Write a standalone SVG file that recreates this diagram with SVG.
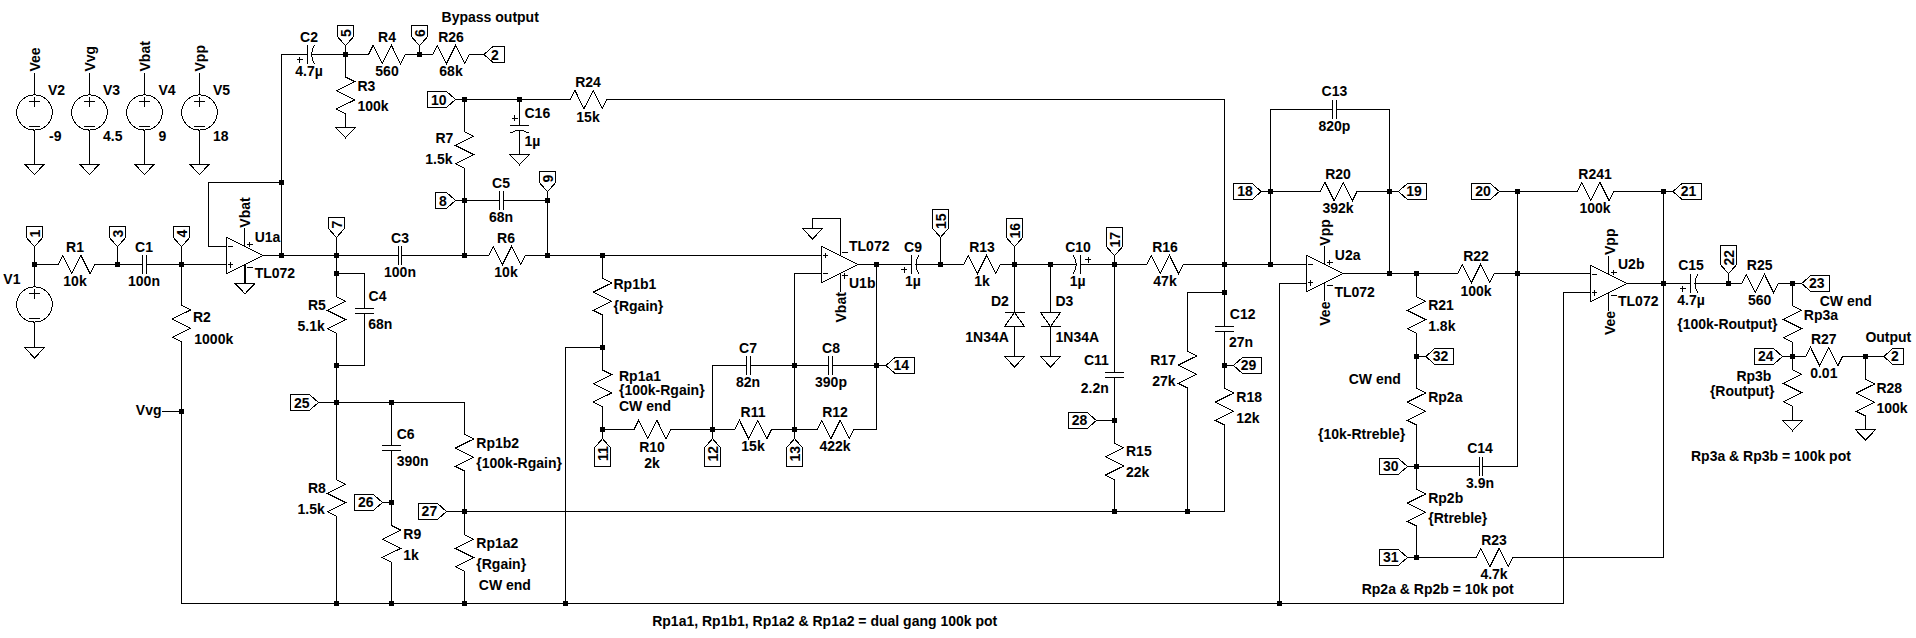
<svg xmlns="http://www.w3.org/2000/svg" width="1916" height="638" viewBox="0 0 1916 638">
<style>
text{font-family:"Liberation Sans",Arial,sans-serif;font-size:14px;font-weight:700;fill:#000;stroke:none}
.m{text-anchor:middle}
.e{text-anchor:end}
.s{fill:none;stroke:#000;stroke-width:1;shape-rendering:crispEdges}
#wires path{fill:none;stroke:#000;stroke-width:1;shape-rendering:crispEdges}
#wires use{fill:#000;stroke:none;shape-rendering:crispEdges}
</style>
<defs>
<polyline id="rh" class="s" points="-18.3,0 -13.7,-9.15 -4.6,9.15 4.6,-9.15 13.7,9.15 18.3,0"/>
<polyline id="rv" class="s" points="0,-18.3 9.15,-13.7 -9.15,-4.6 9.15,4.6 -9.15,13.7 0,18.3"/>
<path id="ch" class="s" d="M-1.9 -9.15V9.15M1.9 -9.15V9.15"/>
<path id="cv" class="s" d="M-9.15 -2.4H9.15M-9.15 2.4H9.15"/>
<path id="pc" class="s" d="M-3.6 -9.15V9.15M3.8 -9.15Q-1.8 0 3.8 9.15M-14 5H-8M-11 2V8"/>
<path id="gnd" class="s" d="M-10 0H10L0 10.5Z"/>
<path id="f1" class="s" d="M0 0L-8 -9V-20H8V-9Z"/>
<path id="f2" class="s" d="M0 0L-8 -9V-28H8V-9Z"/>
<path id="op" class="s" d="M0 0L-36.8 -18.3V18.3ZM-35 -9.15H-30M-35 9.15H-30M-32.5 6.5V12M-18.4 -9.15V-27.45M-18.4 9.15V27.45M-16.5 -11.3H-10.5M-13.5 -14V-8.5M-16.5 12H-10.5"/>
<g id="vs" class="s"><ellipse cx="0" cy="0" rx="17.8" ry="17.6"/><path d="M-5.3 -11H5.3M0 -16V-6M-5.3 13.5H5.3"/></g>
<rect id="d" x="-2.5" y="-2.5" width="5" height="5"/>
</defs>

<g id="wires">
<path d="M34.5 72.5V95M34.5 130V164M89.5 72.5V95M89.5 130V164M144.5 72.5V95M144.5 130V164M199.5 72.5V95M199.5 130V164"/>
<path d="M34.5 246.7V286.5M34.5 322.5V347.5M34.5 264.5H58M94.7 264.5H142.4M146.2 264.5H226.5M117.5 246.7V264.5M181.5 246.7V305.3M181.5 342V603.5M162.4 411.5H181.5"/>
<path d="M226.5 246.5H208.5V182.5H281.5M281.5 255.5V54.5H307M311.6 54.5H368.6M405 54.5H432.7M469.4 54.5H484M345.5 45.7V77.3M345.5 113.3V127.3M419.5 45.7V54.5"/>
<path d="M245 264.5V283.3M263.3 255.5H398M402 255.5H488.6M525.3 255.5H821.6M336.5 237.5V296.7M336.5 273.5H364.5V308.6M364.5 313.4V365.5H336.5M336.5 333.3V479.7M336.5 516.3V603.5"/>
<path d="M455.5 99.5H570.2M607 99.5H1224.5V327M464.5 99.5V131.7M464.5 168.3V255.5M519.5 99.5V125.7M519.5 130.3V154.3M455.5 200.5H499.7M503.5 200.5H547.5V255.5M547.5 191.7V200.5"/>
<path d="M318.4 402.5H464.5V434.7M464.5 470.7V534.7M464.5 571.3V603.5M391.5 402.5V445.4M391.5 450.2V525.7M391.5 562V603.5M382.4 502.5H391.5M446.5 511.5H1224.5V424.7M181.5 603.5H1563.5V292.5H1590.3"/>
<path d="M565.5 603.5V347.5H602.5M602.5 255.5V278.3M602.5 315V369.7M602.5 407V438.7M602.5 429.5H634M670.6 429.5H735M771.4 429.5H817M853.9 429.5H876.5V264.5"/>
<path d="M712.5 429.5V365.5H746.3M750.1 365.5H828.7M832.5 365.5H886M712.5 429.5V438.7M794.5 438.7V273.5H821.6M840 237V218.5H812.5V228.5"/>
<path d="M858.4 264.5H911.4M916 264.5H963.7M1000.4 264.5H1076.2M1080.8 264.5H1146.5M1183.3 264.5H1306.2M940.5 237.3V264.5M1014.5 246.7V312.5M1014.5 326.5V356.5M1050.5 264.5V312.5M1050.5 326.5V356.5M1114.5 255.7V372.3M1114.5 377.1V443M1114.5 479.7V511.5M1096.3 420.5H1114.5"/>
<path d="M1224.5 292.5H1187.5V351.3M1187.5 388V511.5M1224.5 331.8V388.7M1224.5 365.5H1233.5"/>
<path d="M1261.2 191.5H1320.5M1356.8 191.5H1398.4M1270.5 264.5V109.5H1332.5M1336.3 109.5H1389.5V273.5M1343.3 273.5H1457.6M1494.4 273.5H1590.3M1306.2 283.5H1279.5V603.5"/>
<path d="M1416.5 273.5V296.7M1416.5 333.3V388.7M1416.5 424.7V489.7M1416.5 525.7V557.5M1425.8 356.5H1416.5M1407.4 466.5H1479M1482.8 466.5H1517.5V191.5M1499.3 191.5H1576.8M1614 191.5H1673M1407.4 557.5H1476.4M1512.7 557.5H1663.5V191.5"/>
<path d="M1627 283.5H1690.3M1695 283.5H1741.7M1778 283.5H1801.7M1728.5 273.7V283.5M1792.5 283.5V306M1792.5 342.3V369.7M1792.5 406.3V420.3M1782.5 356.5H1805.8M1842.5 356.5H1883.8M1865.5 356.5V379.7M1865.5 415.7V429.7"/>
<use href="#d" x="34.5" y="264.5"/><use href="#d" x="117.5" y="264.5"/><use href="#d" x="181.5" y="264.5"/><use href="#d" x="181.5" y="411.5"/>
<use href="#d" x="281.5" y="182.5"/><use href="#d" x="281.5" y="255.5"/><use href="#d" x="345.5" y="54.5"/><use href="#d" x="419.5" y="54.5"/>
<use href="#d" x="336.5" y="255.5"/><use href="#d" x="336.5" y="273.5"/><use href="#d" x="336.5" y="365.5"/><use href="#d" x="336.5" y="402.5"/><use href="#d" x="336.5" y="603.5"/>
<use href="#d" x="391.5" y="402.5"/><use href="#d" x="391.5" y="502.5"/><use href="#d" x="391.5" y="603.5"/>
<use href="#d" x="464.5" y="99.5"/><use href="#d" x="519.5" y="99.5"/><use href="#d" x="464.5" y="200.5"/><use href="#d" x="547.5" y="200.5"/><use href="#d" x="464.5" y="255.5"/><use href="#d" x="547.5" y="255.5"/><use href="#d" x="602.5" y="255.5"/>
<use href="#d" x="464.5" y="511.5"/><use href="#d" x="464.5" y="603.5"/><use href="#d" x="565.5" y="603.5"/><use href="#d" x="602.5" y="347.5"/><use href="#d" x="602.5" y="429.5"/>
<use href="#d" x="712.5" y="429.5"/><use href="#d" x="794.5" y="429.5"/><use href="#d" x="794.5" y="365.5"/><use href="#d" x="876.5" y="365.5"/><use href="#d" x="876.5" y="264.5"/>
<use href="#d" x="940.5" y="264.5"/><use href="#d" x="1014.5" y="264.5"/><use href="#d" x="1050.5" y="264.5"/><use href="#d" x="1114.5" y="264.5"/><use href="#d" x="1114.5" y="420.5"/><use href="#d" x="1114.5" y="511.5"/><use href="#d" x="1187.5" y="511.5"/>
<use href="#d" x="1224.5" y="264.5"/><use href="#d" x="1224.5" y="292.5"/><use href="#d" x="1224.5" y="365.5"/><use href="#d" x="1270.5" y="191.5"/><use href="#d" x="1270.5" y="264.5"/>
<use href="#d" x="1389.5" y="191.5"/><use href="#d" x="1389.5" y="273.5"/><use href="#d" x="1416.5" y="273.5"/><use href="#d" x="1416.5" y="356.5"/><use href="#d" x="1416.5" y="466.5"/><use href="#d" x="1416.5" y="557.5"/>
<use href="#d" x="1517.5" y="191.5"/><use href="#d" x="1517.5" y="273.5"/><use href="#d" x="1279.5" y="603.5"/><use href="#d" x="1663.5" y="191.5"/><use href="#d" x="1663.5" y="283.5"/>
<use href="#d" x="1728.5" y="283.5"/><use href="#d" x="1792.5" y="283.5"/><use href="#d" x="1792.5" y="356.5"/><use href="#d" x="1865.5" y="356.5"/>
</g>

<g id="V1"><use href="#vs" x="34.5" y="304.5"/><use href="#gnd" x="34.5" y="347.5"/><text x="3.3" y="284">V1</text></g>
<g id="V2"><use href="#vs" x="34.5" y="112.5"/><use href="#gnd" x="34.5" y="164"/><text transform="translate(39.5 71.5) rotate(-90)">Vee</text><text x="48" y="95">V2</text><text x="49" y="141">-9</text></g>
<g id="V3"><use href="#vs" x="89.5" y="112.5"/><use href="#gnd" x="89.5" y="164"/><text transform="translate(94.5 71.5) rotate(-90)">Vvg</text><text x="103" y="95">V3</text><text x="103" y="141">4.5</text></g>
<g id="V4"><use href="#vs" x="144.5" y="112.5"/><use href="#gnd" x="144.5" y="164"/><text transform="translate(149.5 71.5) rotate(-90)">Vbat</text><text x="158.4" y="95">V4</text><text x="158.4" y="141">9</text></g>
<g id="V5"><use href="#vs" x="199.5" y="112.5"/><use href="#gnd" x="199.5" y="164"/><text transform="translate(205 71.5) rotate(-90)">Vpp</text><text x="213" y="95">V5</text><text x="213" y="141">18</text></g>

<g id="N1"><use href="#f1" x="34.5" y="246.7"/><text class="m" transform="translate(39.5 233.5) rotate(-90)">1</text></g>
<g id="N3"><use href="#f1" x="117.5" y="246.7"/><text class="m" transform="translate(122.5 233.5) rotate(-90)">3</text></g>
<g id="N4"><use href="#f1" x="181.5" y="246.7"/><text class="m" transform="translate(186.5 233.5) rotate(-90)">4</text></g>
<g id="N5"><use href="#f1" x="345.5" y="45.7"/><text class="m" transform="translate(350.5 33) rotate(-90)">5</text></g>
<g id="N6"><use href="#f1" x="419.5" y="45.7"/><text class="m" transform="translate(424.5 33) rotate(-90)">6</text></g>
<g id="N7"><use href="#f1" x="336.5" y="237.5"/><text class="m" transform="translate(341.5 224.5) rotate(-90)">7</text></g>
<g id="N9"><use href="#f1" x="547.5" y="191.7"/><text class="m" transform="translate(552.5 178.7) rotate(-90)">9</text></g>
<g id="N15"><use href="#f2" x="940.5" y="237.3"/><text class="m" transform="translate(945.5 221.3) rotate(-90)">15</text></g>
<g id="N16"><use href="#f2" x="1014.5" y="246.7"/><text class="m" transform="translate(1019.5 230.7) rotate(-90)">16</text></g>
<g id="N17"><use href="#f2" x="1114.5" y="255.7"/><text class="m" transform="translate(1119.5 239.7) rotate(-90)">17</text></g>
<g id="N22"><use href="#f2" x="1728.5" y="273.7"/><text class="m" transform="translate(1733.5 257.7) rotate(-90)">22</text></g>
<g id="N11"><use href="#f2" transform="translate(602.5 438.7) rotate(180)"/><text class="m" transform="translate(607.5 453.7) rotate(-90)">11</text></g>
<g id="N12"><use href="#f2" transform="translate(712.5 438.7) rotate(180)"/><text class="m" transform="translate(717.5 453.7) rotate(-90)">12</text></g>
<g id="N13"><use href="#f2" transform="translate(794.5 438.7) rotate(180)"/><text class="m" transform="translate(799.5 453.7) rotate(-90)">13</text></g>
<g id="N10"><use href="#f2" transform="translate(455.5 99.5) rotate(-90)"/><text class="m" x="438.8" y="104.5">10</text></g>
<g id="N8"><use href="#f1" transform="translate(455.5 200.5) rotate(-90)"/><text class="m" x="442.9" y="205.5">8</text></g>
<g id="N25"><use href="#f2" transform="translate(318.4 402.5) rotate(-90)"/><text class="m" x="301.8" y="407.5">25</text></g>
<g id="N26"><use href="#f2" transform="translate(382.4 502.5) rotate(-90)"/><text class="m" x="365.7" y="507">26</text></g>
<g id="N27"><use href="#f2" transform="translate(446.5 511.5) rotate(-90)"/><text class="m" x="429.4" y="516.3">27</text></g>
<g id="N28"><use href="#f2" transform="translate(1096.3 420.5) rotate(-90)"/><text class="m" x="1079.6" y="425">28</text></g>
<g id="N18"><use href="#f2" transform="translate(1261.2 191.5) rotate(-90)"/><text class="m" x="1245" y="196.3">18</text></g>
<g id="N20"><use href="#f2" transform="translate(1499.3 191.5) rotate(-90)"/><text class="m" x="1483" y="196.3">20</text></g>
<g id="N30"><use href="#f2" transform="translate(1407.4 466.5) rotate(-90)"/><text class="m" x="1390.7" y="470.7">30</text></g>
<g id="N31"><use href="#f2" transform="translate(1407.4 557.5) rotate(-90)"/><text class="m" x="1390.7" y="562">31</text></g>
<g id="N24"><use href="#f2" transform="translate(1782.5 356.5) rotate(-90)"/><text class="m" x="1765.8" y="361">24</text></g>
<g id="N2a"><use href="#f1" transform="translate(484 54.5) rotate(90)"/><text class="m" x="495" y="59.5">2</text></g>
<g id="N14"><use href="#f2" transform="translate(886 365.5) rotate(90)"/><text class="m" x="901.2" y="370">14</text></g>
<g id="N29"><use href="#f2" transform="translate(1233.5 365.5) rotate(90)"/><text class="m" x="1248.6" y="370">29</text></g>
<g id="N19"><use href="#f2" transform="translate(1398.4 191.5) rotate(90)"/><text class="m" x="1414" y="196.3">19</text></g>
<g id="N21"><use href="#f2" transform="translate(1673 191.5) rotate(90)"/><text class="m" x="1688.6" y="196.3">21</text></g>
<g id="N23"><use href="#f2" transform="translate(1801.7 283.5) rotate(90)"/><text class="m" x="1816.8" y="288">23</text></g>
<g id="N32"><use href="#f2" transform="translate(1425.8 356.5) rotate(90)"/><text class="m" x="1440.5" y="361">32</text></g>
<g id="N2b"><use href="#f1" transform="translate(1883.8 356.5) rotate(90)"/><text class="m" x="1894.8" y="361">2</text></g>

<g id="R1"><use href="#rh" x="76.4" y="264.5"/><text class="m" x="75" y="252">R1</text><text class="m" x="75" y="285.7">10k</text></g>
<g id="C1"><use href="#ch" x="144.3" y="264.5"/><text class="m" x="144" y="252">C1</text><text class="m" x="144" y="285.7">100n</text></g>
<g id="R2"><use href="#rv" x="181.5" y="323.6"/><text x="193" y="322">R2</text><text x="194.3" y="344">1000k</text></g>
<g id="VvgNet"><text class="e" x="161.5" y="415.3">Vvg</text></g>
<g id="U1a"><use href="#op" x="263.3" y="255.5"/><use href="#gnd" x="245" y="283.3"/><text transform="translate(250 227.7) rotate(-90)">Vbat</text><text x="254.7" y="241.7">U1a</text><text x="254.7" y="277.7">TL072</text></g>
<g id="C2"><use href="#pc" x="310.6" y="54.5"/><text class="m" x="309" y="42">C2</text><text class="m" x="309" y="76">4.7µ</text></g>
<g id="R3"><use href="#rv" x="345.5" y="95.3"/><use href="#gnd" x="345.5" y="127.3"/><text x="357.5" y="90.7">R3</text><text x="357.5" y="111">100k</text></g>
<g id="R4"><use href="#rh" x="386.8" y="54.5"/><text class="m" x="387" y="42">R4</text><text class="m" x="387" y="76">560</text></g>
<g id="R26"><use href="#rh" x="451" y="54.5"/><text class="m" x="451" y="42">R26</text><text class="m" x="451" y="76">68k</text></g>
<g id="BypassNote"><text x="441.6" y="21.7">Bypass output</text></g>
<g id="R24"><use href="#rh" x="588.6" y="99.5"/><text class="m" x="588" y="87.3">R24</text><text class="m" x="588" y="121.7">15k</text></g>
<g id="C16"><use href="#pc" transform="translate(519.5 129.3) rotate(90)"/><use href="#gnd" x="519.5" y="154.3"/><text x="524.5" y="117.7">C16</text><text x="524.5" y="146">1µ</text></g>
<g id="R7"><use href="#rv" x="464.5" y="150"/><text x="435.5" y="142.7">R7</text><text x="425.3" y="164">1.5k</text></g>
<g id="C5"><use href="#ch" x="501.6" y="200.5"/><text class="m" x="501" y="188.3">C5</text><text class="m" x="501" y="221.7">68n</text></g>
<g id="C3"><use href="#ch" x="400" y="255.5"/><text class="m" x="400" y="242.7">C3</text><text class="m" x="400" y="276.7">100n</text></g>
<g id="R6"><use href="#rh" x="507" y="255.5"/><text class="m" x="506" y="242.7">R6</text><text class="m" x="506" y="276.7">10k</text></g>
<g id="C4"><use href="#cv" x="364.5" y="311"/><text x="368.6" y="301">C4</text><text x="368.2" y="329">68n</text></g>
<g id="R5"><use href="#rv" x="336.5" y="315"/><text x="308" y="310">R5</text><text x="297.5" y="330.7">5.1k</text></g>
<g id="R8"><use href="#rv" x="336.5" y="498"/><text x="308" y="493">R8</text><text x="297.5" y="513.7">1.5k</text></g>
<g id="C6"><use href="#cv" x="391.5" y="447.8"/><text x="396.7" y="438.7">C6</text><text x="396.7" y="466">390n</text></g>
<g id="R9"><use href="#rv" x="391.5" y="543.8"/><text x="403.3" y="539">R9</text><text x="403.3" y="560">1k</text></g>
<g id="Rp1b2"><use href="#rv" x="464.5" y="452.7"/><text x="476.3" y="448">Rp1b2</text><text x="476.3" y="468.3">{100k-Rgain}</text></g>
<g id="Rp1a2"><use href="#rv" x="464.5" y="553"/><text x="476.3" y="548">Rp1a2</text><text x="476.3" y="569">{Rgain}</text><text x="478.8" y="590">CW end</text></g>
<g id="Rp1b1"><use href="#rv" x="602.5" y="296.7"/><text x="613.5" y="289.3">Rp1b1</text><text x="613.5" y="310.5">{Rgain}</text></g>
<g id="Rp1a1"><use href="#rv" x="602.5" y="388.3"/><text x="619" y="381.3">Rp1a1</text><text x="619" y="394.7">{100k-Rgain}</text><text x="619" y="410.7">CW end</text></g>
<g id="R10"><use href="#rh" x="652.3" y="429.5"/><text class="m" x="652" y="452">R10</text><text class="m" x="652" y="468">2k</text></g>
<g id="C7"><use href="#ch" x="748.2" y="365.5"/><text class="m" x="748" y="353">C7</text><text class="m" x="748" y="386.7">82n</text></g>
<g id="C8"><use href="#ch" x="830.6" y="365.5"/><text class="m" x="831" y="353">C8</text><text class="m" x="831" y="386.7">390p</text></g>
<g id="R11"><use href="#rh" x="753.2" y="429.5"/><text class="m" x="753" y="417">R11</text><text class="m" x="753" y="450.7">15k</text></g>
<g id="R12"><use href="#rh" x="835.5" y="429.5"/><text class="m" x="835" y="417">R12</text><text class="m" x="835" y="450.7">422k</text></g>
<g id="U1b"><use href="#op" transform="translate(858.4 264.5) scale(1 -1)"/><use href="#gnd" x="812.5" y="228.5"/><text transform="translate(846 322.5) rotate(-90)">Vbat</text><text x="849" y="251">TL072</text><text x="849" y="287.7">U1b</text></g>
<g id="C9"><use href="#pc" x="915" y="264.5"/><text class="m" x="913" y="251.7">C9</text><text class="m" x="913" y="286">1µ</text></g>
<g id="R13"><use href="#rh" x="982" y="264.5"/><text class="m" x="982" y="251.7">R13</text><text class="m" x="982" y="286">1k</text></g>
<g id="D2"><path class="s" d="M1004.5 312.5H1024.5M1014.5 312.5L1004.5 326.5H1024.5Z"/><use href="#gnd" x="1014.5" y="356.5"/><text x="991" y="305.7">D2</text><text x="965.3" y="342">1N34A</text></g>
<g id="D3"><path class="s" d="M1040.5 312.5H1060.5L1050.5 326.5ZM1040.5 326.5H1060.5"/><use href="#gnd" x="1050.5" y="356.5"/><text x="1055.5" y="305.7">D3</text><text x="1055.5" y="342">1N34A</text></g>
<g id="C10"><use href="#pc" transform="translate(1077.2 264.5) rotate(180)"/><text class="m" x="1078" y="251.7">C10</text><text class="m" x="1077.6" y="286">1µ</text></g>
<g id="R16"><use href="#rh" x="1164.9" y="264.5"/><text class="m" x="1165" y="251.7">R16</text><text class="m" x="1165" y="286">47k</text></g>
<g id="C11"><use href="#cv" x="1114.5" y="374.7"/><text x="1084" y="364.7">C11</text><text x="1080.8" y="393">2.2n</text></g>
<g id="R15"><use href="#rv" x="1114.5" y="461.4"/><text x="1126" y="456.3">R15</text><text x="1126" y="477">22k</text></g>
<g id="R17"><use href="#rv" x="1187.5" y="369.7"/><text x="1150.2" y="364.7">R17</text><text x="1152.2" y="385.7">27k</text></g>
<g id="C12"><use href="#cv" x="1224.5" y="329.4"/><text x="1229.8" y="319.3">C12</text><text x="1229" y="346.7">27n</text></g>
<g id="R18"><use href="#rv" x="1224.5" y="406.7"/><text x="1236.3" y="402">R18</text><text x="1236.3" y="423">12k</text></g>
<g id="C13"><use href="#ch" x="1334.4" y="109.5"/><text class="m" x="1334.4" y="96">C13</text><text class="m" x="1334.4" y="131">820p</text></g>
<g id="R20"><use href="#rh" x="1338.7" y="191.5"/><text class="m" x="1338" y="179">R20</text><text class="m" x="1338" y="212.7">392k</text></g>
<g id="U2a"><use href="#op" x="1343.3" y="273.5"/><text transform="translate(1330.3 245.7) rotate(-90)">Vpp</text><text transform="translate(1330.3 325.7) rotate(-90)">Vee</text><text x="1334.8" y="260">U2a</text><text x="1334.4" y="296.7">TL072</text></g>
<g id="R22"><use href="#rh" x="1476" y="273.5"/><text class="m" x="1476" y="260.7">R22</text><text class="m" x="1476" y="295.7">100k</text></g>
<g id="R21"><use href="#rv" x="1416.5" y="315"/><text x="1428.2" y="310">R21</text><text x="1428.2" y="331">1.8k</text></g>
<g id="Rp2a"><use href="#rv" x="1416.5" y="406.7"/><text x="1428.2" y="402">Rp2a</text><text x="1348.7" y="384">CW end</text><text x="1318" y="438.7">{10k-Rtreble}</text></g>
<g id="Rp2b"><use href="#rv" x="1416.5" y="507.7"/><text x="1428.2" y="503">Rp2b</text><text x="1428.2" y="523">{Rtreble}</text></g>
<g id="C14"><use href="#ch" x="1480.9" y="466.5"/><text class="m" x="1480" y="452.7">C14</text><text class="m" x="1480" y="488">3.9n</text></g>
<g id="R23"><use href="#rh" x="1494.5" y="557.5"/><text class="m" x="1494" y="544.7">R23</text><text class="m" x="1494" y="579">4.7k</text></g>
<g id="R241"><use href="#rh" x="1595.4" y="191.5"/><text class="m" x="1595" y="179">R241</text><text class="m" x="1595" y="212.7">100k</text></g>
<g id="U2b"><use href="#op" x="1627" y="283.5"/><text transform="translate(1614.8 255) rotate(-90)">Vpp</text><text transform="translate(1614.8 335) rotate(-90)">Vee</text><text x="1618" y="269.3">U2b</text><text x="1618" y="306">TL072</text></g>
<g id="C15"><use href="#pc" x="1693.9" y="283.5"/><text class="m" x="1691" y="270">C15</text><text class="m" x="1691" y="305">4.7µ</text></g>
<g id="R25"><use href="#rh" x="1759.9" y="283.5"/><text class="m" x="1759.7" y="270">R25</text><text class="m" x="1759.7" y="305">560</text></g>
<g id="Rp3a"><use href="#rv" x="1792.5" y="324"/><text x="1819.7" y="306">CW end</text><text x="1803.8" y="320">Rp3a</text><text x="1677.2" y="329.3">{100k-Routput}</text></g>
<g id="Rp3b"><use href="#rv" x="1792.5" y="388"/><use href="#gnd" x="1792.5" y="420.3"/><text x="1736.4" y="381.3">Rp3b</text><text x="1709.9" y="396.3">{Routput}</text></g>
<g id="R27"><use href="#rh" x="1824.2" y="356.5"/><text class="m" x="1823.8" y="344">R27</text><text class="m" x="1823.8" y="377.7">0.01</text></g>
<g id="R28"><use href="#rv" x="1865.5" y="397.7"/><use href="#gnd" x="1865.5" y="429.7"/><text x="1876.4" y="393">R28</text><text x="1876.4" y="413">100k</text></g>
<g id="Notes"><text x="1865.4" y="342.3">Output</text><text x="1691" y="460.7">Rp3a &amp; Rp3b = 100k pot</text><text x="1361.7" y="594">Rp2a &amp; Rp2b = 10k pot</text><text x="652.2" y="626.3">Rp1a1, Rp1b1, Rp1a2 &amp; Rp1a2 = dual gang 100k pot</text></g>
</svg>
